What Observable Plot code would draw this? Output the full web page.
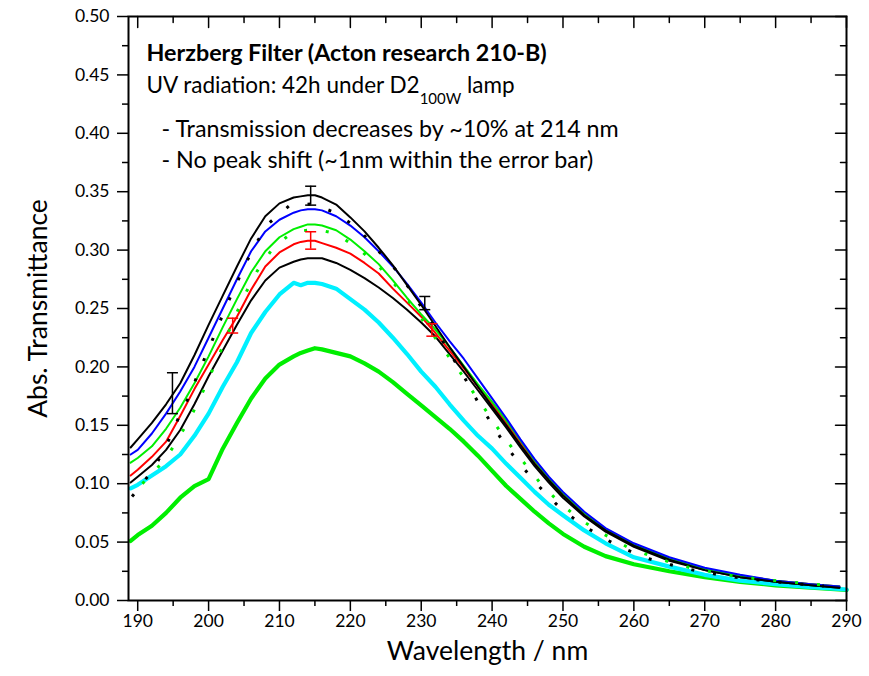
<!DOCTYPE html>
<html>
<head>
<meta charset="utf-8">
<script src="https://cdn.jsdelivr.net/npm/d3@7"></script>
<script src="https://cdn.jsdelivr.net/npm/@observablehq/plot@0.6"></script>
<style>
  html, body { margin: 0; padding: 0; background: #fff; }
  #chart { width: 869px; height: 676px; }
</style>
</head>
<body>
<div id="chart"></div>
<script>
// ---- data ----
const wl = [189,190,192,194,196,198,200,202,204,206,208,210,212,213,214,215,216,218,220,222,224,226,228,230,232,234,236,238,240,242,244,246,248,250,253,256,260,265,270,275,280,285,289];
const wlThick = [189,190,192,194,196,198,200,202,204,206,208,210,212,213,214,215,216,218,220,222,224,226,228,230,232,234,236,238,240,242,244,246,248,250,253,256,260,265,270,275,280,285,290];

const blackTop = [.131,.138,.152,.168,.186,.210,.236,.261,.286,.310,.329,.340,.345,.346,.347,.347,.345,.339,.328,.316,.302,.287,.270,.253,.235,.217,.200,.183,.166,.150,.133,.117,.103,.090,.073,.060,.047,.035,.026,.020,.016,.013,.011];
const blue     = [.125,.129,.143,.160,.179,.200,.225,.250,.275,.299,.316,.326,.332,.334,.335,.335,.334,.329,.321,.311,.299,.286,.271,.255,.238,.222,.207,.190,.173,.156,.138,.121,.106,.093,.076,.062,.049,.037,.028,.022,.017,.014,.012];
const greenThin= [.118,.122,.132,.147,.165,.186,.209,.234,.258,.281,.299,.311,.318,.320,.322,.322,.321,.317,.309,.299,.288,.274,.259,.245,.232,.217,.201,.185,.170,.154,.137,.120,.105,.092,.075,.061,.048,.036,.027,.021,.017,.014,.012];
const red      = [.107,.112,.123,.136,.158,.181,.202,.223,.243,.266,.286,.298,.305,.307,.308,.308,.306,.302,.297,.289,.280,.267,.255,.243,.229,.214,.199,.183,.168,.152,.135,.119,.104,.091,.074,.061,.048,.036,.027,.021,.017,.014,.012];
const blackLow = [.101,.106,.116,.129,.146,.168,.192,.214,.236,.257,.274,.285,.290,.292,.293,.293,.293,.289,.283,.276,.268,.259,.249,.238,.226,.211,.196,.180,.164,.148,.131,.115,.101,.088,.072,.059,.046,.034,.026,.020,.016,.013,.011];
const cyan     = [.096,.099,.107,.115,.125,.141,.160,.183,.204,.229,.247,.262,.272,.270,.272,.272,.271,.267,.258,.249,.238,.225,.211,.196,.183,.168,.154,.141,.130,.117,.105,.093,.082,.073,.060,.049,.037,.029,.022,.017,.014,.0115,.0094];
const greenThick=[.051,.056,.064,.075,.088,.098,.104,.130,.152,.173,.190,.202,.209,.212,.214,.216,.215,.212,.209,.203,.196,.187,.177,.167,.157,.147,.136,.124,.111,.098,.087,.076,.066,.057,.046,.038,.031,.025,.020,.016,.013,.011,.009];

const wlDotBlack = [189.2,190.6,192.7,194.3,195.7,197.2,198.4,199.7,201.0,202.2,203.6,205.0,206.5,208.5,211.4,214.6,217.7,220.9,223.7,226.5,228.7,230.6,232.6,234.4,236.1,237.9,239.8,241.9,244.1,246.8,249.8,252.9,255.9,259,262.1,265.1,268.2,271.3,274.4,277.5,280.6,283.7,286.8];
const dotBlack   = [.089,.0993,.1176,.1364,.1555,.174,.1926,.211,.2297,.248,.2668,.2854,.304,.323,.338,.3396,.3325,.3196,.301,.2825,.264,.2454,.2263,.2083,.191,.171,.1527,.1327,.1156,.0965,.078,.064,.0528,.0434,.0357,.0308,.0263,.0228,.0198,.0176,.0157,.014,.0124];
const wlDotGreen = [189.2,191.7,194.1,195.5,197.2,198.7,200,201.4,202.7,203.9,205.3,206.9,209.0,211.8,215.1,218.0,221.2,224.2,226.8,229.2,231.4,233.6,235.8,237.8,240,242,244.5,247,250,253,256,259,262,265,268,271,274.3,277.4,280.6,283.7,286.8];
const dotGreen   = [.092,.106,.1227,.1364,.154,.1718,.190,.2089,.2283,.2454,.264,.2825,.301,.3153,.318,.314,.301,.2848,.2668,.2489,.2297,.2112,.1926,.174,.155,.137,.118,.099,.081,.067,.056,.046,.039,.033,.028,.0245,.0208,.0186,.0166,.0148,.0131];

const errBlackX  = [194.9, 214.4, 230.5];
const errBlackLo = [0.160, 0.3385, 0.249];
const errBlackHi = [0.195, 0.3547, 0.2603];
const errRedX    = [203.4, 214.4, 231.5];
const errRedLo   = [0.229, 0.3008, 0.2263];
const errRedHi   = [0.2417, 0.3157, 0.237];

const xMajor = [190,200,210,220,230,240,250,260,270,280,290];
const xMinor = [195,205,215,225,235,245,255,265,275,285];
const yMajor = [0,0.05,0.10,0.15,0.20,0.25,0.30,0.35,0.40,0.45,0.50];
const yMinor = [0.025,0.075,0.125,0.175,0.225,0.275,0.325,0.375,0.425,0.475];

const titleText = "Herzberg Filter (Acton research 210-B)";
const uvText = "UV radiation: 42h under D2";
const uvSub = "100W";
const uvTail = " lamp";
const note1 = "- Transmission decreases by ~10% at 214 nm";
const note2 = "- No peak shift (~1nm within the error bar)";
const xLabel = "Wavelength / nm";
const yLabel = "Abs. Transmittance";

// ---- build tables ----
const pts = (xs, ys) => xs.map((x, i) => ({x, y: ys[i]}));
const errs = (xs, lo, hi) => xs.map((x, i) => ({x, lo: lo[i], hi: hi[i]}));
const FONT = "Lato, 'Open Sans', sans-serif";

const tickShape = { draw(context, l) { context.moveTo(0, 0); context.lineTo(0, -l); } };
const capShape = { draw(context, r) { context.moveTo(-5.5, 0); context.lineTo(5.5, 0); } };

const lineMark = (xs, ys, stroke, w, extra = {}) =>
  Plot.line(pts(xs, ys), {x: "x", y: "y", stroke, strokeWidth: w, curve: "linear", ...extra});

const errMarks = (xs, lo, hi, color) => {
  const d = errs(xs, lo, hi);
  return [
    Plot.ruleX(d, {x: "x", y1: "lo", y2: "hi", stroke: color, strokeWidth: 1.5}),
    Plot.dot(d, {x: "x", y: "lo", symbol: capShape, r: 5, stroke: color, strokeWidth: 1.5, fill: "none"}),
    Plot.dot(d, {x: "x", y: "hi", symbol: capShape, r: 5, stroke: color, strokeWidth: 1.5, fill: "none"})
  ];
};

const TXT = 23.3;
const chart = Plot.plot({
  width: 869,
  height: 676,
  marginLeft: 128,
  marginRight: 23,
  marginTop: 16,
  marginBottom: 76,
  x: {domain: [188.7, 290]},
  y: {domain: [0, 0.5]},
  style: {fontFamily: FONT, fontSize: "17px", color: "black", background: "white", overflow: "visible"},
  marks: [
    lineMark(wlThick, greenThick, "#00ee00", 4.2),
    lineMark(wlThick, cyan, "#00f0ff", 4.2),
    lineMark(wl, blackLow, "#000000", 2),
    lineMark(wl, red, "#ff0000", 2),
    lineMark(wl, greenThin, "#00ee00", 2),
    lineMark(wl, blue, "#0000ff", 2),
    lineMark(wl, blackTop, "#000000", 2),
    lineMark(wlDotBlack, dotBlack, "#000000", 3, {strokeDasharray: "3,19", strokeLinecap: "butt"}),
    lineMark(wlDotGreen, dotGreen, "#00ee00", 3, {strokeDasharray: "3,19", strokeDashoffset: 8, strokeLinecap: "butt"}),
    ...errMarks(errBlackX, errBlackLo, errBlackHi, "#000000"),
    ...errMarks(errRedX, errRedLo, errRedHi, "#ff0000"),
    Plot.axisY({ticks: yMajor, tickSize: 11, tickPadding: 8, tickFormat: d3.format(".2f"), label: null, strokeWidth: 1.5, fontSize: 17.5}),
    Plot.axisY({ticks: yMinor, tickSize: 6, tickFormat: () => "", label: null, strokeWidth: 1.5}),
    Plot.axisX({ticks: xMajor, tickSize: 11, tickPadding: 3, tickFormat: d3.format("d"), label: null, strokeWidth: 1.5, fontSize: 17.5}),
    Plot.axisX({ticks: xMinor, tickSize: 6, tickFormat: () => "", label: null, strokeWidth: 1.5}),
    Plot.vector(xMajor, {x: d => d, frameAnchor: "top", length: 11, rotate: 180, anchor: "start", shape: tickShape, stroke: "black", strokeWidth: 1.5}),
    Plot.vector(xMinor, {x: d => d, frameAnchor: "top", length: 6, rotate: 180, anchor: "start", shape: tickShape, stroke: "black", strokeWidth: 1.5}),
    Plot.vector(yMajor, {y: d => d, frameAnchor: "right", length: 11, rotate: -90, anchor: "start", shape: tickShape, stroke: "black", strokeWidth: 1.5}),
    Plot.vector(yMinor, {y: d => d, frameAnchor: "right", length: 6, rotate: -90, anchor: "start", shape: tickShape, stroke: "black", strokeWidth: 1.5}),
    Plot.frame({stroke: "black", strokeWidth: 2}),
    Plot.text([yLabel], {text: d => d, frameAnchor: "left", textAnchor: "middle", dx: -89.5, rotate: -90, fontSize: 26.5, fill: "black"}),
    Plot.text([xLabel], {text: d => d, frameAnchor: "bottom", textAnchor: "middle", dy: 59.5, fontSize: 26.5, fill: "black"}),
    Plot.text([titleText], {text: d => d, frameAnchor: "top-left", dx: 18, dy: 27.6, textAnchor: "start", fontWeight: "bold", fontSize: TXT, fill: "black"}),
    Plot.text([uvText], {text: d => d, frameAnchor: "top-left", dx: 18, dy: 60.8, textAnchor: "start", fontSize: 22.5, fill: "black"}),
    Plot.text([note1], {text: d => d, frameAnchor: "top-left", dx: 33, dy: 103.6, textAnchor: "start", fontSize: TXT, fill: "black"}),
    Plot.text([note2], {text: d => d, frameAnchor: "top-left", dx: 33, dy: 134.6, textAnchor: "start", fontSize: TXT, fill: "black"})
  ]
});

document.getElementById("chart").appendChild(chart);

// subscript "100W" and " lamp" appended as tspans to the UV line
d3.select(chart).selectAll("text").filter(function () { return this.textContent === uvText; })
  .each(function () {
    const t = d3.select(this);
    t.append("tspan").attr("dy", "11").attr("font-size", "15px").text(uvSub);
    t.append("tspan").attr("dy", "-11").text(uvTail);
  });
</script>
</body>
</html>
